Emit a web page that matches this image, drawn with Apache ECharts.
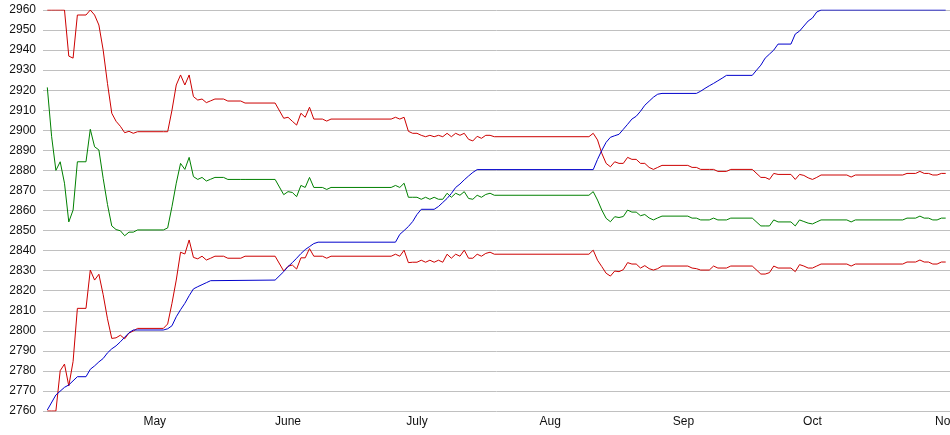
<!DOCTYPE html>
<html>
<head>
<meta charset="utf-8">
<script src="https://cdn.jsdelivr.net/npm/echarts@6/dist/echarts.min.js"></script>
<style>html,body{margin:0;padding:0;background:#fff;}#c{width:950px;height:435px;}</style>
</head>
<body>
<div id="c"></div>
<script>
const YEAR = '2012';
const monthLabels = ['Jan','Feb','Mar','Apr','May','June','July','Aug','Sep','Oct','Nov','Dec'];
const tickDates = ['05-01','06-01','07-01','08-01','09-01','10-01','11-01'];
const axisStart = '04-05';
const axisEnd = '11-02';

// dates shared by the band series (upper red, middle green, lower red)
const bandDates = ['04-06','04-07','04-08','04-09','04-10','04-11','04-12','04-13','04-15','04-16','04-17','04-18','04-19','04-20','04-21','04-22','04-23','04-24','04-25','04-26','04-27',
'05-03','05-04','05-05','05-06','05-07','05-08','05-09','05-10','05-11','05-12','05-13','05-14','05-15','05-17','05-18','05-21','05-22','05-29','05-31',
'06-01','06-02','06-03','06-04','06-05','06-06','06-07','06-09','06-10','06-11','06-25','06-26','06-27','06-28','06-29','06-30',
'07-01','07-02','07-03','07-04','07-05','07-06','07-07','07-08','07-09','07-10','07-11','07-12','07-13','07-14','07-15','07-16','07-17','07-18','07-19',
'08-10','08-11','08-12','08-13','08-14','08-15','08-16','08-17','08-18','08-19','08-20','08-21','08-22','08-23','08-24','08-25','08-26','08-27',
'09-02','09-03','09-04','09-05','09-07','09-08','09-09','09-11','09-12','09-17','09-19','09-20','09-21','09-22','09-23','09-26','09-27','09-28','09-29','09-30',
'10-01','10-02','10-03','10-09','10-10','10-11','10-22','10-23','10-25','10-26','10-27','10-28','10-29','10-30','10-31','11-01'];

const upperValues = [2960,2960,2960,2960,2960,2937,2936,2957.5,2957.5,2960,2957.5,2952.5,2940,2923.4,2908.5,2904.5,2902,2898.8,2899.5,2898.5,2899.3,
2899.3,2899.3,2910,2922.6,2927.6,2922.6,2927.6,2916.8,2915.1,2915.6,2913.8,2914.7,2915.6,2915.6,2914.6,2914.6,2913.6,2913.6,2906,
2906.5,2904.5,2902.6,2908.5,2906.5,2911.5,2905.6,2905.6,2904.6,2905.6,2905.6,2906.5,2905.6,2906.5,2899.5,2898.5,
2898.5,2897.5,2896.8,2897.5,2896.8,2897.5,2896.8,2898.5,2896.8,2898.5,2897.5,2898.5,2895.5,2894.7,2897,2896,2897.5,2897.5,2896.8,
2896.8,2898.5,2895.2,2888.5,2883.5,2881.8,2884.3,2883.5,2883.5,2886.5,2885.5,2885.5,2883.5,2883.5,2881.5,2880.5,2881.5,2882.5,
2882.5,2881.5,2881.5,2880.5,2880.5,2880.5,2879.5,2879.5,2880.5,2880.5,2876.5,2876.5,2875.5,2878.5,2878,2878,2875.5,2878,2877.5,2876.3,
2875.5,2876.5,2877.7,2877.7,2876.7,2877.7,2877.7,2878.5,2878.5,2879.5,2878.5,2878.5,2877.7,2877.7,2878.5,2878.5];

const middleValues = [2921.4,2897,2880,2884.3,2873.6,2854.3,2860.2,2884.3,2884.3,2900.5,2891.8,2890.2,2876,2863,2852.3,2850.5,2849.9,2847.4,2849.2,2849.2,2850.3,
2850.3,2851.3,2861.9,2873.6,2883.5,2880.5,2886.5,2876.9,2875.5,2876.5,2874.7,2875.6,2876.5,2876.5,2875.5,2875.5,2875.5,2875.5,2867.9,
2869.4,2869,2866.9,2872.5,2871.5,2876.5,2871.5,2871.5,2870.5,2871.5,2871.5,2872.5,2871.5,2873.6,2866.6,2866.6,
2866.6,2865.6,2866.6,2865.6,2866.6,2865.6,2865.6,2868.6,2866.6,2868.6,2867.6,2869.4,2866,2865.6,2867.6,2866.6,2868,2868.6,2867.6,
2867.6,2869.4,2865.2,2860.2,2856.1,2854.4,2856.9,2856.5,2857,2860.2,2859.2,2859.2,2857.4,2858,2856.3,2855.3,2856.3,2857.2,
2857.2,2856.2,2856.2,2855.3,2855.3,2856.2,2855.3,2855.3,2856.2,2856.2,2852.3,2852.3,2852.3,2855.3,2854.3,2854.3,2852.3,2855.3,2854.5,2853.7,
2853.3,2854.3,2855.3,2855.3,2854.3,2855.3,2855.3,2856.2,2856.2,2857.2,2856.2,2856.2,2855.3,2855.3,2856.2,2856.2];

const lowerValues = [2760,2760,2760,2780.1,2783.4,2772.5,2784.7,2811.2,2811.2,2830.3,2825.3,2828.2,2818,2806,2796.2,2796.5,2797.8,2796,2798.9,2799.9,2801.2,
2801.2,2803.4,2813.7,2825.3,2839.2,2838.3,2845.3,2836.6,2835.9,2837.2,2835.3,2836.2,2837.2,2837.2,2836.2,2836.2,2837.2,2837.2,2829.8,
2832.2,2832.8,2830.8,2836.4,2836.4,2841,2837.2,2837.2,2836.2,2837.2,2837.2,2838.2,2837.2,2840.2,2834,2834.2,
2834.2,2835.2,2834.2,2835.2,2834.2,2835.2,2834.2,2838.2,2836.2,2838.2,2837.2,2840.2,2836.2,2836.2,2838.2,2837.2,2838.6,2839.2,2838.2,
2838.2,2840.2,2835.2,2832,2828.7,2827.3,2829.8,2829.5,2830.5,2834,2833.3,2833.3,2831.3,2832.5,2831,2830.3,2831,2832.3,
2832.3,2831.3,2831,2830.3,2830.3,2832.3,2831.3,2831.3,2832.3,2832.3,2828.3,2828.3,2829,2832.3,2831.3,2831.3,2829.5,2833,2832.3,2831.3,
2831.3,2832.3,2833.3,2833.3,2832.3,2833.3,2833.3,2834.3,2834.3,2835.3,2834.3,2834.3,2833.3,2833.3,2834.3,2834.3];

// rising (blue) series
const blueDates = ['04-06','04-08','04-10','04-11','04-13','04-15','04-16','04-17','04-18','04-19','04-20','04-21','04-22','04-23','04-24','04-25','04-26',
'05-03','05-04','05-05','05-06','05-07','05-08','05-09','05-10','05-11','05-12','05-13','05-14','05-29','05-31',
'06-01','06-02','06-03','06-04','06-05','06-06','06-07','06-08','06-26','06-27','06-28','06-29','06-30',
'07-01','07-02','07-05','07-06','07-07','07-08','07-09','07-10','07-11','07-12','07-13','07-14','07-15',
'08-11','08-12','08-13','08-14','08-15','08-16','08-17','08-18','08-19','08-20','08-21','08-22','08-23','08-24','08-25','08-26','08-27',
'09-04','09-05','09-06','09-07','09-08','09-09','09-10','09-11','09-17','09-18','09-19','09-20','09-21','09-22','09-23','09-26','09-27','09-28','09-29','09-30',
'10-01','10-02','10-03','11-01'];
const blueValues = [2760.5,2768,2771.8,2773,2777.1,2777.1,2780.8,2782.5,2784.5,2786.2,2789,2791,2792.5,2794.5,2796.8,2799,2800.4,
2800.4,2801,2802.5,2807,2810.5,2813.7,2817.5,2820.9,2822,2823,2824,2825,2825.3,2829.5,
2832,2834,2836.2,2838.5,2840.5,2842,2843.5,2844.2,2844.2,2848.1,2850,2852,2854.5,
2858,2860.6,2860.6,2862,2864,2866,2868.5,2871.5,2873.2,2875.3,2877.2,2879,2880.4,
2880.4,2885.5,2890,2894,2896.5,2897.3,2898,2900.5,2903,2905.6,2907,2909.5,2912.5,2914.5,2916.5,2918,2918.4,
2918.4,2919.5,2920.9,2922.2,2923.4,2924.7,2926,2927.4,2927.4,2930,2932.5,2936,2938,2940,2943,2943,2948,2949.5,2952,2954.5,
2956,2959,2960,2960];

function ts(md) { const p = md.split('-'); return new Date(+YEAR, +p[0] - 1, +p[1]).getTime(); }
function pairs(dates, vals) { return dates.map((d, i) => [ts(d), vals[i]]); }

const chart = echarts.init(document.getElementById('c'), null, { renderer: 'canvas' });
const lineSeries = (name, dates, vals, color) => ({
  name, type: 'line', data: pairs(dates, vals), showSymbol: false, symbol: 'none',
  lineStyle: { width: 1, color }, itemStyle: { color }, animation: false
});
chart.setOption({
  animation: false,
  backgroundColor: '#ffffff',
  grid: { left: 43, right: 0, top: 10, bottom: 24, containLabel: false, outerBoundsMode: 'none' },
  xAxis: {
    type: 'value', min: ts(axisStart), max: ts(axisEnd), scale: true,
    axisLine: { show: false }, axisTick: { show: false }, splitLine: { show: false },
    axisLabel: {
      customValues: tickDates.map(ts),
      formatter: v => monthLabels[new Date(v).getMonth()],
      color: '#111', fontSize: 12, fontFamily: 'Liberation Sans, Arial, sans-serif', margin: 5,
      hideOverlap: false
    }
  },
  yAxis: {
    type: 'value', min: 2760, max: 2960, interval: 10,
    axisLine: { show: false }, axisTick: { show: false },
    splitLine: { show: true, lineStyle: { color: '#c0c0c0', width: 1 } },
    axisLabel: { color: '#111', fontSize: 12, fontFamily: 'Liberation Sans, Arial, sans-serif', margin: 7,
      formatter: v => String(v) }
  },
  series: [
    lineSeries('upper', bandDates, upperValues, '#cc0000'),
    lineSeries('middle', bandDates, middleValues, '#008000'),
    lineSeries('lower', bandDates, lowerValues, '#cc0000'),
    lineSeries('rising', blueDates, blueValues, '#0000cc')
  ]
});
</script>
</body>
</html>
